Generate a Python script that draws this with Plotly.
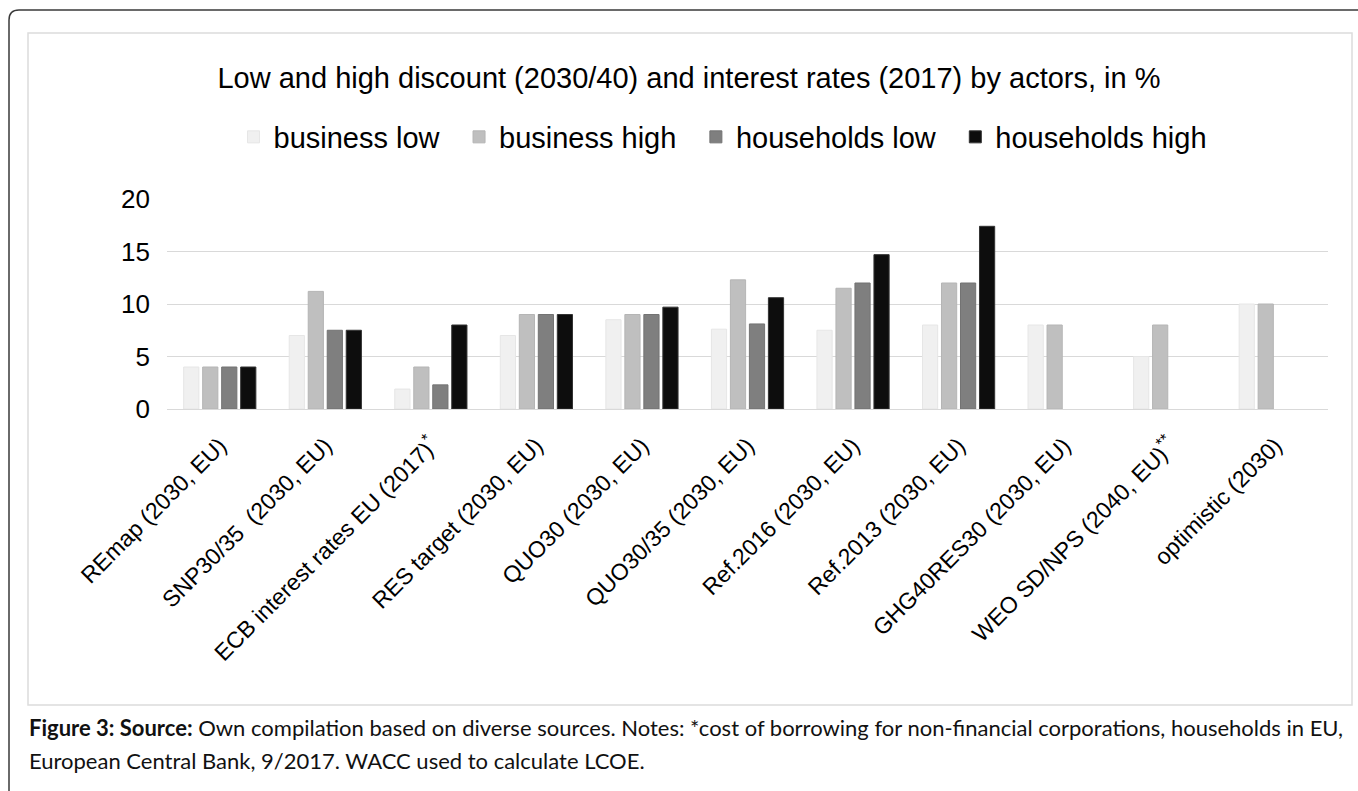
import plotly.graph_objects as go

categories = [
    "REmap (2030, EU)",
    "SNP30/35  (2030, EU)",
    "ECB interest rates EU (2017)<sup>*</sup>",
    "RES target (2030, EU)",
    "QUO30 (2030, EU)",
    "QUO30/35 (2030, EU)",
    "Ref.2016 (2030, EU)",
    "Ref.2013 (2030, EU)",
    "GHG40RES30 (2030, EU)",
    "WEO SD/NPS (2040, EU)<sup>**</sup>",
    "optimistic (2030)",
]
business_low = [4, 7, 1.9, 7, 8.5, 7.6, 7.5, 8, 8, 5, 10]
business_high = [4, 11.2, 4, 9, 9, 12.3, 11.5, 12, 8, 8, 10]
households_low = [4, 7.5, 2.3, 9, 9, 8.1, 12, 12, None, None, None]
households_high = [4, 7.5, 8, 9, 9.7, 10.6, 14.7, 17.4, None, None, None]

series_names = ["business low", "business high", "households low", "households high"]
series_values = [business_low, business_high, households_low, households_high]
series_colors = ["#f0f0f0", "#bfbfbf", "#7f7f7f", "#0d0d0d"]
series_lines = ["#e6e6e6", "#b5b5b5", "#737373", "#333333"]

W, H = 1358, 791
L, R, T, B = 167, 30, 199, 382
pw, ph = W - L - R, H - T - B


def px(x):
    return (x - L) / pw


def py(y):
    return (H - B - y) / ph


fig = go.Figure()
for i, (name, vals, col, lcol) in enumerate(zip(series_names, series_values, series_colors, series_lines)):
    label = name + ("\u2002" if i < len(series_names) - 1 else "")
    fig.add_trace(go.Bar(
        x=categories, y=vals, name=label,
        marker=dict(color=col, line=dict(color=lcol, width=1)),
    ))

font_main = "Liberation Sans, Arial, sans-serif"

fig.update_layout(
    width=W, height=H,
    margin=dict(l=L, r=R, t=T, b=B),
    paper_bgcolor="white", plot_bgcolor="white",
    barmode="group", bargap=0.28, bargroupgap=0.2,
    font=dict(family=font_main, color="#000000"),
    title=dict(
        text="Low and high discount (2030/40) and interest rates (2017) by actors, in %",
        x=689 / W, xanchor="center", y=1 - 78 / H, yanchor="middle",
        font=dict(size=29, family=font_main, color="#000000"),
    ),
    legend=dict(
        orientation="h", x=px(723), xanchor="center",
        y=py(137), yanchor="middle",
        font=dict(size=29, family=font_main, color="#000000"),
        itemwidth=30, bgcolor="rgba(0,0,0,0)",
    ),
    xaxis=dict(
        tickangle=-45, tickfont=dict(size=23, family=font_main, color="#000000"),
        showgrid=False, showline=True, linecolor="#d9d9d9", linewidth=1,
        ticks="", ticklabelstandoff=13,
    ),
    yaxis=dict(
        range=[0, 20], tickvals=[0, 5, 10, 15, 20],
        tickfont=dict(size=26, family=font_main, color="#000000"),
        showgrid=True, gridcolor="#d9d9d9", gridwidth=1,
        zeroline=True, zerolinecolor="#d9d9d9", zerolinewidth=1,
        showline=False, ticks="", ticklabelstandoff=16,
    ),
    showlegend=True,
)

# inner chart frame
fig.add_shape(type="rect", xref="paper", yref="paper",
              x0=px(28), x1=px(1352), y0=py(705), y1=py(33),
              line=dict(color="#dcdcdc", width=1.5), layer="below")
# outer rounded frame (top + left edges)
r = 10
x0p, y0p = 9, 10
path = (f"M {px(x0p)} {py(H + 20)} L {px(x0p)} {py(y0p + r)} "
        f"Q {px(x0p)} {py(y0p)} {px(x0p + r)} {py(y0p)} L {px(W + 20)} {py(y0p)}")
fig.add_shape(type="path", xref="paper", yref="paper", path=path,
              line=dict(color="#3a3a3a", width=1.5))

cap_font = dict(size=22, family="Lato, Open Sans, sans-serif", color="#111111")
fig.add_annotation(
    xref="paper", yref="paper", x=px(27), y=py(727), xanchor="left", yanchor="middle",
    text="<b>Figure 3: Source:</b> Own compilation based on diverse sources. Notes: *cost of borrowing for non-financial corporations, households in EU,",
    showarrow=False, align="left", font=cap_font,
)
fig.add_annotation(
    xref="paper", yref="paper", x=px(27), y=py(760), xanchor="left", yanchor="middle",
    text="European Central Bank, 9/2017. WACC used to calculate LCOE.",
    showarrow=False, align="left", font=cap_font,
)

fig.write_html("out.html", config={"displayModeBar": False},
               post_script="document.body.style.margin='0';document.body.style.overflow='hidden';")
